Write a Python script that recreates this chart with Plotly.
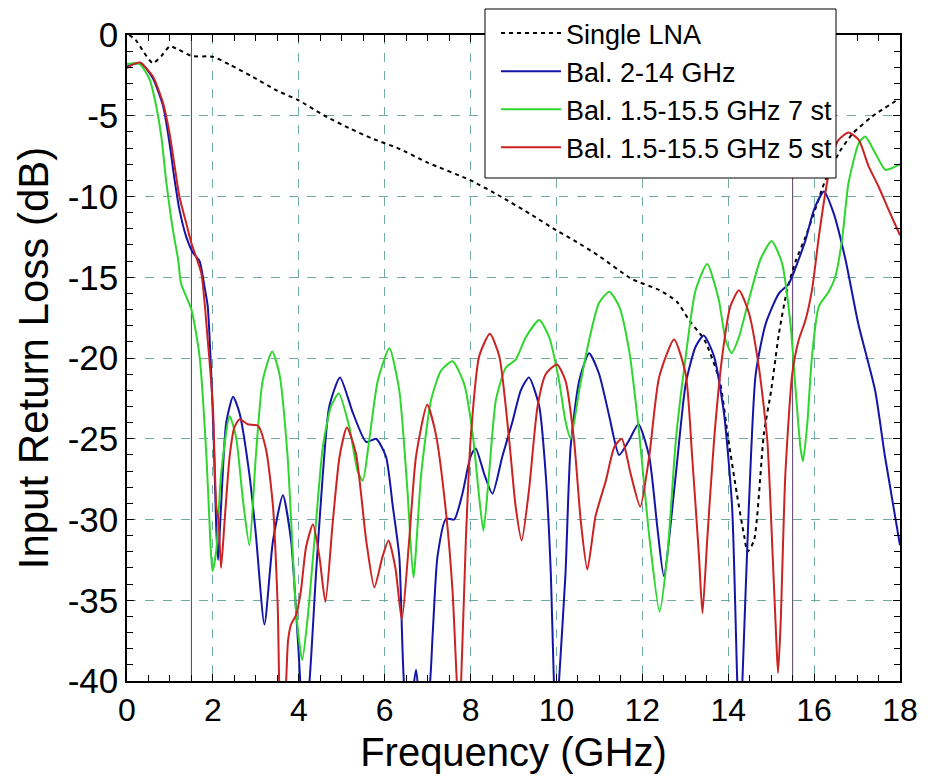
import plotly.graph_objects as go

# ---------------- data ----------------
single_x = [0.05, 0.2, 0.4, 0.6, 0.8, 1.0, 1.2, 1.5, 2.0, 2.4, 2.9, 3.5, 4.0, 4.6, 5.2, 5.7, 6.3, 7.0,
            8.0, 8.7, 9.4, 10.0, 10.4, 11.0, 11.75, 12.4, 12.8, 13.1, 13.45, 13.8, 14.0, 14.2, 14.37,
            14.45, 14.6, 14.83, 15.0, 15.18, 15.37, 15.57, 15.8, 16.0, 16.26, 16.6, 16.9, 17.35, 17.95]
single_y = [0.0, -0.3, -1.1, -1.75, -1.3, -0.7, -0.9, -1.3, -1.35, -1.85, -2.55, -3.45, -4.05, -5.0,
            -5.8, -6.4, -7.0, -7.9, -9.0, -10.0, -11.1, -12.1, -12.7, -13.7, -15.1, -15.8, -16.5,
            -17.7, -18.9, -21.4, -25.0, -28.4, -31.0, -32.0, -31.3, -24.7, -22.0, -18.5, -15.8, -14.0,
            -12.5, -11.0, -9.0, -7.2, -6.1, -5.05, -4.0]

bal214_x = [0.0, 0.15, 0.33, 0.6, 0.84, 0.99, 1.11, 1.22, 1.38, 1.54, 1.69, 1.8, 1.88, 1.96, 2.02, 2.08,
            2.12, 2.19, 2.31, 2.47, 2.62, 2.85, 3.0, 3.2, 3.4, 3.63, 3.82, 3.98, 4.12, 4.25, 4.4, 4.56,
            4.71, 4.96, 5.26, 5.57, 5.8, 6.03, 6.19, 6.34, 6.46, 6.58, 6.73, 6.85, 7.02, 7.12, 7.23,
            7.43, 7.62, 7.81, 8.0, 8.12, 8.32, 8.51, 8.74, 8.98, 9.17, 9.36, 9.6, 9.75, 9.87, 9.94,
            10.0, 10.06, 10.21, 10.33, 10.53, 10.76, 10.99, 11.23, 11.46, 11.69, 11.91, 12.16, 12.35,
            12.5, 12.78, 13.01, 13.24, 13.43, 13.67, 13.9, 14.09, 14.21, 14.27, 14.33, 14.48, 14.64,
            14.87, 15.18, 15.41, 15.64, 15.8, 16.0, 16.23, 16.45, 16.73, 17.03, 17.42, 17.65, 18.0]
bal214_y = [-1.95, -1.8, -1.74, -2.67, -4.4, -6.7, -9.0, -10.8, -12.5, -13.5, -14.0, -15.5, -16.8, -20.9,
            -25.1, -30.7, -32.5, -29.2, -24.0, -22.4, -23.4, -27.2, -30.9, -36.5, -31.3, -28.5, -31.3,
            -37.5, -43.0, -40.0, -33.4, -27.2, -23.0, -21.2, -23.4, -25.2, -25.0, -26.1, -29.2, -32.3,
            -40.5, -42.0, -39.3, -42.0, -41.0, -37.0, -32.3, -29.95, -30.0, -28.4, -26.1, -25.6, -27.2,
            -28.4, -26.1, -23.9, -22.0, -21.2, -23.0, -27.2, -33.4, -40.0, -43.0, -40.0, -33.4, -25.5,
            -21.4, -19.7, -20.96, -23.6, -26.0, -25.1, -24.1, -26.1, -30.5, -33.5, -27.2, -21.6, -19.3,
            -18.6, -19.9, -23.4, -29.2, -40.0, -44.0, -40.0, -29.2, -21.0, -17.9, -16.0, -15.4, -13.9,
            -12.7, -10.8, -9.69, -11.0, -13.9, -17.9, -22.0, -26.1, -31.6]

bal7_x = [0.0, 0.15, 0.3, 0.53, 0.68, 0.8, 0.91, 1.03, 1.11, 1.19, 1.26, 1.5, 1.69, 1.85, 1.94, 1.99,
          2.08, 2.19, 2.39, 2.54, 2.7, 2.85, 3.0, 3.16, 3.38, 3.55, 3.74, 3.94, 4.08, 4.21, 4.4, 4.56,
          4.75, 4.93, 5.18, 5.37, 5.49, 5.64, 5.84, 6.11, 6.34, 6.53, 6.67, 6.85, 7.08, 7.31, 7.58,
          7.85, 8.05, 8.2, 8.3, 8.43, 8.59, 8.82, 9.05, 9.29, 9.6, 9.83, 10.06, 10.21, 10.33, 10.53,
          10.76, 10.99, 11.23, 11.46, 11.69, 11.92, 12.16, 12.4, 12.58, 12.78, 13.01, 13.24, 13.51,
          13.78, 13.94, 14.08, 14.25, 14.48, 14.75, 15.01, 15.25, 15.45, 15.57, 15.68, 15.74, 15.84,
          15.95, 16.11, 16.34, 16.49, 16.65, 16.8, 17.04, 17.19, 17.42, 17.66, 17.81, 18.0]
bal7_y = [-1.8, -1.75, -1.8, -2.77, -4.4, -6.3, -9.0, -11.4, -12.7, -13.9, -15.4, -17.0, -19.9, -26.1,
          -31.3, -33.2, -31.9, -27.2, -23.6, -24.9, -28.8, -31.6, -26.1, -21.4, -19.6, -21.0, -26.1,
          -35.8, -38.7, -36.0, -30.2, -25.5, -23.0, -22.2, -24.3, -27.0, -27.6, -25.1, -21.4, -19.4,
          -22.0, -28.2, -33.6, -27.2, -22.6, -20.8, -20.2, -21.6, -24.7, -28.6, -30.7, -27.2, -22.6,
          -20.6, -20.1, -18.7, -17.65, -18.7, -21.4, -23.9, -25.0, -22.0, -18.9, -16.6, -15.9, -16.8,
          -19.5, -24.5, -31.0, -35.7, -32.3, -25.1, -19.9, -15.8, -14.18, -16.4, -18.9, -19.7, -18.7,
          -16.4, -13.9, -12.75, -14.1, -17.9, -22.0, -25.5, -26.4, -24.1, -19.9, -16.8, -15.9, -15.0,
          -12.7, -9.18, -6.7, -6.29, -7.3, -8.35, -8.25, -8.0]

bal5_x = [0.0, 0.15, 0.3, 0.6, 0.84, 0.99, 1.11, 1.22, 1.38, 1.5, 1.73, 1.88, 2.0, 2.08, 2.13, 2.19,
          2.27, 2.39, 2.5, 2.62, 2.81, 3.05, 3.24, 3.4, 3.51, 3.58, 3.68, 3.75, 3.82, 3.94, 4.05, 4.17,
          4.33, 4.48, 4.62, 4.79, 4.95, 5.12, 5.33, 5.57, 5.76, 5.95, 6.09, 6.25, 6.4, 6.57, 6.73,
          6.99, 7.19, 7.43, 7.58, 7.68, 7.73, 7.78, 7.89, 8.0, 8.2, 8.45, 8.67, 8.9, 9.05, 9.19, 9.36,
          9.56, 9.75, 10.01, 10.21, 10.41, 10.57, 10.72, 10.91, 11.15, 11.35, 11.52, 11.73, 11.95,
          12.16, 12.39, 12.74, 13.01, 13.16, 13.32, 13.4, 13.51, 13.67, 13.86, 14.05, 14.25, 14.48,
          14.71, 14.91, 15.02, 15.12, 15.16, 15.22, 15.33, 15.49, 15.64, 15.8, 15.95, 16.11, 16.26,
          16.42, 16.57, 16.8, 17.04, 17.27, 17.5, 17.73, 18.0]
bal5_y = [-2.05, -1.8, -1.7, -2.56, -4.22, -6.08, -8.14, -10.0, -11.66, -12.9, -14.76, -18.9, -23.0,
          -29.2, -30.0, -33.0, -30.2, -26.1, -24.3, -23.8, -24.1, -24.2, -25.7, -29.2, -35.4, -42.0,
          -41.0, -37.5, -36.5, -35.9, -34.4, -31.7, -30.3, -32.3, -35.1, -30.2, -26.1, -24.3, -25.9,
          -31.3, -34.2, -32.3, -31.3, -33.0, -36.2, -31.3, -26.1, -22.9, -24.7, -29.6, -34.4, -40.0,
          -42.0, -40.0, -31.3, -25.1, -19.9, -18.5, -19.9, -25.1, -29.2, -31.3, -28.2, -23.0, -21.0,
          -20.4, -21.4, -25.1, -30.2, -33.1, -29.8, -27.6, -25.5, -25.0, -27.2, -29.2, -26.1, -21.2,
          -18.85, -21.0, -26.1, -32.3, -35.8, -31.3, -25.1, -19.9, -16.8, -15.8, -17.2, -20.5, -25.1,
          -31.3, -37.5, -39.5, -36.5, -27.2, -21.0, -18.9, -17.65, -15.8, -12.5, -9.8, -7.5, -6.5,
          -6.04, -6.5, -8.14, -9.38, -10.8, -12.4]

band_edges = [1.5, 15.5]
x_ticks = [0, 2, 4, 6, 8, 10, 12, 14, 16, 18]
y_ticks = [0, -5, -10, -15, -20, -25, -30, -35, -40]

names = ["Single LNA", "Bal. 2-14 GHz", "Bal. 1.5-15.5 GHz 7 st", "Bal. 1.5-15.5 GHz 5 st"]

# ---------------- figure ----------------
FONT = "Liberation Sans, Arial, sans-serif"

W, H = 922, 775            # page body has an 8px margin
ML, MR, MT, MB = 119, 30, 27, 102
PW, PH = W - ML - MR, H - MT - MB

fig = go.Figure()
fig.add_trace(go.Scatter(x=single_x, y=single_y, mode="lines", name=names[0],
                         line=dict(color="black", width=2, dash="4px,4px", shape="spline", smoothing=0.6)))
fig.add_trace(go.Scatter(x=bal214_x, y=bal214_y, mode="lines", name=names[1],
                         line=dict(color="#1414a8", width=2, shape="spline", smoothing=0.6)))
fig.add_trace(go.Scatter(x=bal7_x, y=bal7_y, mode="lines", name=names[2],
                         line=dict(color="#2ed62e", width=2, shape="spline", smoothing=0.6)))
fig.add_trace(go.Scatter(x=bal5_x, y=bal5_y, mode="lines", name=names[3],
                         line=dict(color="#cc2222", width=2, shape="spline", smoothing=0.6)))

for xe in band_edges:
    fig.add_shape(type="line", xref="x", yref="y", x0=xe, x1=xe, y0=-40, y1=0,
                  line=dict(color="#5a3c64", width=1), layer="below")

# legend frame (white box that sits over the plot's top edge, as in the reference)
box_l, box_r, box_t, box_b = 485 - 8, 836 - 8, 9 - 8, 178 - 8   # px in figure coords
fig.add_shape(type="rect", xref="paper", yref="paper",
              x0=(box_l - ML) / PW, x1=(box_r - ML) / PW,
              y0=(H - MB - box_b) / PH, y1=(H - MB - box_t) / PH,
              fillcolor="white", line=dict(color="black", width=1), layer="above")

axis_common = dict(showline=True, linecolor="black", linewidth=1.5, mirror="allticks",
                   ticks="inside", ticklen=7, tickcolor="black", showgrid=True,
                   gridcolor="#72aba3", griddash="dash", gridwidth=1, zeroline=False)

fig.update_xaxes(range=[0, 18], tickvals=x_ticks, ticktext=[str(v) for v in x_ticks],
                 minor=dict(dtick=0.5, ticks="inside", ticklen=6, tickcolor="black", showgrid=False),
                 tickfont=dict(family=FONT, size=32, color="black"),
                 title=dict(text="Frequency (GHz)", font=dict(family=FONT, size=40, color="black"),
                            standoff=11),
                 **axis_common)
fig.update_yaxes(range=[-40, 0], tickvals=y_ticks, ticktext=[str(v) for v in y_ticks],
                 minor=dict(dtick=1, ticks="inside", ticklen=6, tickcolor="black", showgrid=False),
                 tickfont=dict(family=FONT, size=35, color="black"),
                 title=dict(text="Input Return Loss (dB)", font=dict(family=FONT, size=42, color="black"),
                            standoff=6),
                 **axis_common)

fig.update_layout(
    width=W, height=H,
    margin=dict(l=ML, r=MR, t=MT, b=MB, autoexpand=False),
    paper_bgcolor="white", plot_bgcolor="white",
    showlegend=True,
    legend=dict(x=(496 - 8 - ML) / PW, y=(H - MB - (9 - 8)) / PH, xanchor="left", yanchor="top",
                bgcolor="rgba(0,0,0,0)", borderwidth=0,
                font=dict(family=FONT, size=27, color="black"),
                itemwidth=60, tracegroupgap=0),
)

fig.write_html("out.html")
